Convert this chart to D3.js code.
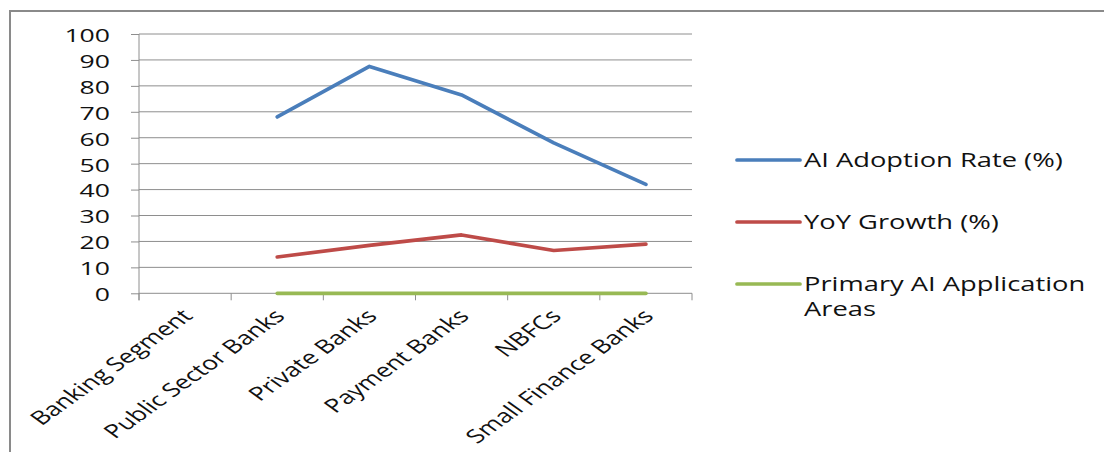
<!DOCTYPE html>
<html>
<head>
<meta charset="utf-8">
<script src="https://cdn.jsdelivr.net/npm/d3@7"></script>
<style>
  html, body { margin: 0; padding: 0; background: #fff; }
  svg { display: block; }
  text { font-family: "Open Sans", Lato, sans-serif; fill: #111; }
</style>
</head>
<body>
<svg id="chart" width="1104" height="452"></svg>
<script>
// Categories along the x axis
const categories = ["Banking Segment", "Public Sector Banks", "Private Banks", "Payment Banks", "NBFCs", "Small Finance Banks"];

// Series values (null = no value for that category)
const adoptionRate = [null, 68, 87.5, 76.5, 58, 42];
const yoyGrowth    = [null, 14, 18.5, 22.5, 16.5, 19];
const applicationAreas = [null, 0, 0, 0, 0, 0];

const yTicks = [0, 10, 20, 30, 40, 50, 60, 70, 80, 90, 100];

const seriesNames  = ["AI Adoption Rate (%)", "YoY Growth (%)", "Primary AI Application Areas"];
const seriesValues = [adoptionRate, yoyGrowth, applicationAreas];
const seriesColors = ["#4a7ebb", "#be4b48", "#98b954"];

const SX = 1.4;       // horizontal text stretch
const gridColor = "#8e8e8e";
const fontFamily = "'Open Sans', Lato, sans-serif";

const svg = d3.select("#chart");

// outer frame
svg.append("path")
  .attr("d", "M10,452 V11 H1104")
  .attr("fill", "none")
  .attr("stroke", "#8a8a8a")
  .attr("stroke-width", 2);

const plot = { left: 139, right: 692, top: 34, bottom: 293.3 };

const x = d3.scaleBand().domain(categories).range([plot.left, plot.right]).paddingInner(0).paddingOuter(0);
const y = d3.scaleLinear().domain([0, 100]).range([plot.bottom, plot.top]);

// horizontal gridlines
svg.append("g").selectAll("line").data(yTicks.filter(t => t > 0)).join("line")
  .attr("x1", plot.left).attr("x2", plot.right)
  .attr("y1", d => y(d)).attr("y2", d => y(d))
  .attr("stroke", gridColor).attr("stroke-width", 1);

// y axis
const yAxis = svg.append("g").attr("transform", `translate(${plot.left},0)`)
  .call(d3.axisLeft(y).tickValues(yTicks).tickSize(8).tickFormat(d3.format("d")));
yAxis.select(".domain").attr("stroke", gridColor).attr("d", `M0,${plot.top}V${plot.bottom + 7}`);
yAxis.selectAll(".tick line").attr("stroke", gridColor);
yAxis.selectAll(".tick text").each(function() {
  d3.select(this)
    .attr("x", null).attr("dy", null)
    .attr("dominant-baseline", "central")
    .attr("text-anchor", "end")
    .attr("transform", `translate(-29,0) scale(${SX},1)`)
    .style("font-size", "19px")
    .style("font-family", fontFamily)
    .attr("fill", "#111");
});

// x axis line and ticks at category boundaries
const xAxisG = svg.append("g");
xAxisG.append("line")
  .attr("x1", plot.left).attr("x2", plot.right)
  .attr("y1", plot.bottom).attr("y2", plot.bottom)
  .attr("stroke", gridColor);
const bounds = categories.map(c => x(c)).concat([x(categories[categories.length - 1]) + x.bandwidth()]);
xAxisG.selectAll("line.tk").data(bounds).join("line").attr("class", "tk")
  .attr("x1", d => d).attr("x2", d => d)
  .attr("y1", plot.bottom).attr("y2", plot.bottom + 7)
  .attr("stroke", gridColor);

// rotated category labels
xAxisG.selectAll("text").data(categories).join("text")
  .attr("text-anchor", "end")
  .attr("transform", d => `translate(${x(d) + x.bandwidth() / 2 + 9},${plot.bottom + 24}) scale(${SX},1) rotate(-45)`)
  .style("font-size", "19px")
  .text(d => d);

// series lines
const line = d3.line()
  .defined(d => d.v != null)
  .x(d => x(d.c) + x.bandwidth() / 2)
  .y(d => y(d.v));

seriesValues.forEach((vals, i) => {
  svg.append("path")
    .datum(categories.map((c, j) => ({ c, v: vals[j] })))
    .attr("d", line)
    .attr("fill", "none")
    .attr("stroke", seriesColors[i])
    .attr("stroke-width", 3.7)
    .attr("stroke-linejoin", "round")
    .attr("stroke-linecap", "round");
});

// legend
const legendY = [160, 222, 284];
const legend = svg.append("g");
seriesNames.forEach((name, i) => {
  const g = legend.append("g");
  g.append("line")
    .attr("x1", 737).attr("x2", 800)
    .attr("y1", legendY[i]).attr("y2", legendY[i])
    .attr("stroke", seriesColors[i]).attr("stroke-width", 3.7)
    .attr("stroke-linecap", "round");
  const lines = i === 2 ? ["Primary AI Application", "Areas"] : [name];
  lines.forEach((txt, k) => {
    g.append("text")
      .attr("dominant-baseline", "central")
      .attr("transform", `translate(804,${legendY[i] + k * 25}) scale(${SX},1)`)
      .style("font-size", "19.5px")
      .text(txt);
  });
});
</script>
</body>
</html>
